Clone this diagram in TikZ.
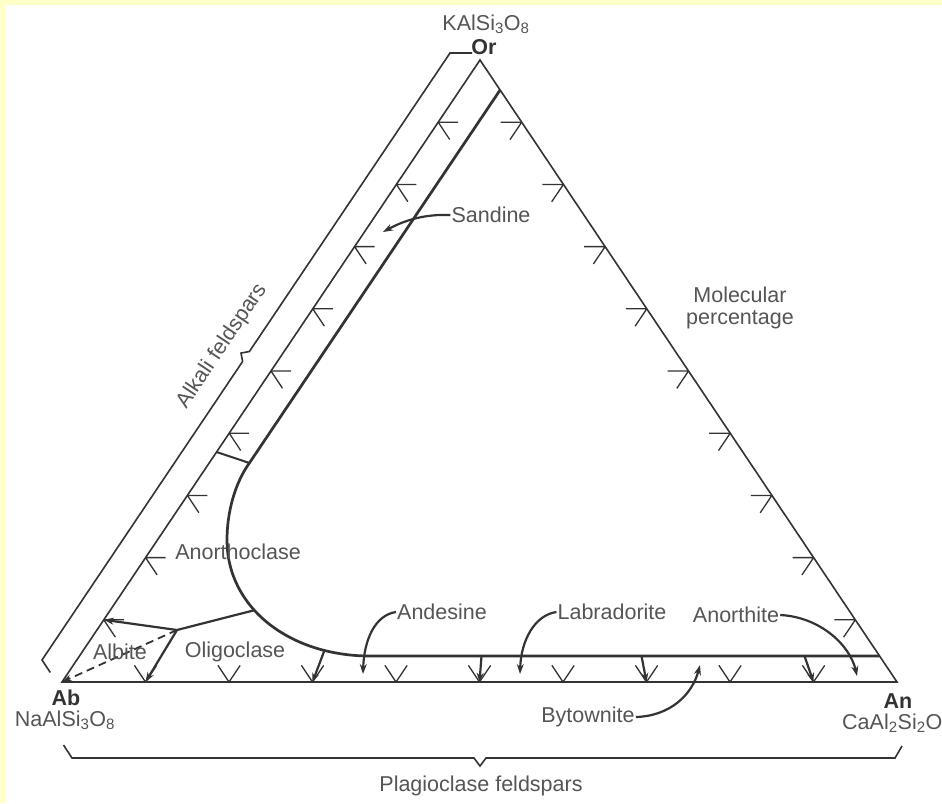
\documentclass[tikz,border=0pt]{standalone}
\usepackage{fontspec}
\setmainfont{Liberation Sans}
\usetikzlibrary{calc,arrows.meta}
\definecolor{inkgray}{HTML}{333333}
\definecolor{txtgray}{HTML}{555555}
\definecolor{paper}{HTML}{FFFFC8}
\tikzset{
  side/.style={inkgray, line width=1.6pt},
  bound/.style={inkgray, line width=2.7pt},
  tickmark/.style={inkgray, line width=1.3pt},
  drop/.style={inkgray, line width=2.2pt, -{Stealth[length=9pt,width=7pt]}},
  labarrow/.style={inkgray, line width=2.2pt, -{Stealth[length=10pt,width=7pt]}},
  lbl/.style={txtgray, inner sep=1pt},
  vtx/.style={inkgray, font=\fontsize{21.5}{24}\selectfont\bfseries, inner sep=1pt}
}
\begin{document}
\begin{tikzpicture}[x=1pt,y=-1pt,font=\fontsize{21.5}{22}\selectfont]
\useasboundingbox (0,0) rectangle (942,803);
\clip (0,0) rectangle (942,803);
\fill[white] (0,0) rectangle (942,803);
\fill[paper] (0,0) rectangle (942,5);
\fill[paper] (0,0) rectangle (6,803);

\coordinate (Or) at (480,60);
\coordinate (Ab) at (62,682);
\coordinate (An) at (897,682);
\draw[side] (Ab) -- (Or) -- (An) -- cycle;

\foreach \k in {1,...,9}{
\draw[tickmark] ($(Ab)!\k/10!(Or)$) coordinate (p) -- ++(20,0) (p) -- ++(11.5,17.3);
\draw[tickmark] ($(An)!\k/10!(Or)$) coordinate (p) -- ++(-21,0) (p) -- ++(-11.7,17.4);
\draw[tickmark] ($(Ab)!\k/10!(An)$) coordinate (p) -- ++(-11.1,-16.7) (p) -- ++(11.2,-16.6);
}

\coordinate (bTop) at (450,53);
\coordinate (bBot) at (42,660);
\coordinate (bMid) at ($(bTop)!.5!(bBot)$);
\draw[side] ($(bTop)+(22,0)$) -- (bTop) -- ($(bMid)+(3.4,-5)$) -- ($(bMid)+(-5,-3.4)$)
  -- ($(bMid)+(-3.4,5)$) -- (bBot) -- ++(8.3,12.5);
\node[lbl, rotate=56.1] (alkali) at (222,346) {Alkali feldspars};

\coordinate (pL) at (72,758);
\coordinate (pR) at (895,758);
\coordinate (pMid) at (480,758);
\draw[side] ($(pL)+(-8.5,-13)$) -- (pL) -- ($(pMid)+(-6,0)$) -- ($(pMid)+(0,8)$)
  -- ($(pMid)+(6,0)$) -- (pR) -- ++(7,-12);
\node[lbl] (plagio) at (481,786) {Plagioclase feldspars};

\coordinate (tieL) at (216.6,452);
\coordinate (bend) at (249.4,463);
\draw[bound] ($(Or)!30/622!(An)$) -- (bend) .. controls (235,483) and (227,512) .. (227,540)
  .. controls (227,608) and (290,656) .. coordinate[pos=.4] (jC) coordinate[pos=.8] (jD) (370,656)
  -- ($(Or)!596/622!(An)$);
\draw[bound, line width=2pt] (tieL) -- (bend);

\coordinate (jA) at (177,630);
\draw[bound, line width=2.2pt] (jC) -- (jA);
\draw[labarrow] (jA) -- ($(Ab)!.1!(Or)$);
\draw[labarrow] (jA) -- ($(Ab)!.1!(An)$);
\draw[labarrow, line width=1.8pt, dash pattern=on 8pt off 5pt] (jA) -- (Ab);

\draw[drop] (jD) -- ($(Ab)!.3!(An)$);
\foreach \k/\dx in {5/2,7/-5,9/-9}
\draw[drop] ($(Ab)!\k/10!(An)+(\dx,-26)$) -- ($(Ab)!\k/10!(An)$);

\node[lbl] (kal) at (486,24) {KAlSi\textsubscript{3}O\textsubscript{8}};
\node[vtx] (or) at (484,47) {Or};
\node[vtx] (ab) at (66,698) {Ab};
\node[lbl] (naal) at (65,720) {NaAlSi\textsubscript{3}O\textsubscript{8}};
\node[vtx] (an) at (898,701) {An};
\node[lbl, anchor=west] (caal) at (841,723) {CaAl\textsubscript{2}Si\textsubscript{2}O\textsubscript{8}};

\node[lbl, align=center] (molec) at (740,308) {Molecular\\percentage};
\node[lbl] (anortho) at (238,552) {Anorthoclase};
\node[lbl] (albite) at (120,652) {Albite};
\node[lbl] (oligo) at (235,652) {Oligoclase};

\node[lbl] (sandine) at (491,215) {Sandine};
\coordinate (sanTip) at (383,232);
\draw[labarrow] (sandine.west) .. controls (425,214) and (405,220) .. (sanTip);

\node[lbl] (andesine) at (442,612) {Andesine};
\coordinate (andTip) at (363,674);
\draw[labarrow] (andesine.west) .. controls (375,615) and (364,640) .. (andTip);

\node[lbl] (labra) at (612,612) {Labradorite};
\coordinate (labTip) at (520,674);
\draw[labarrow] (labra.west) .. controls (535,615) and (521,640) .. (labTip);

\node[lbl] (anorth) at (736,615) {Anorthite};
\coordinate (anoTip) at (857,676);
\draw[labarrow] (anorth.east) .. controls (820,617) and (850,645) .. (anoTip);

\node[lbl] (bytown) at (588,717) {Bytownite};
\coordinate (bytTip) at (700,665);
\draw[labarrow] (bytown.east) .. controls (670,716) and (692,695) .. (bytTip);
\end{tikzpicture}
\end{document}
